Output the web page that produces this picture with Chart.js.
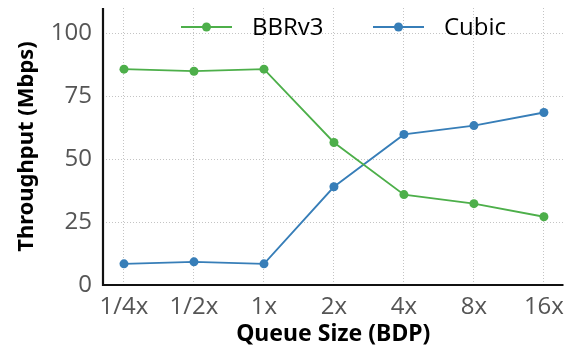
<!DOCTYPE html>
<html>
<head>
<meta charset="utf-8">
<script src="https://cdn.jsdelivr.net/npm/chart.js@4/dist/chart.umd.min.js"></script>
<style>
  html, body { margin: 0; padding: 0; background: #fff; }
  #wrap { width: 568px; height: 348px; position: relative; }
</style>
</head>
<body>
<div id="wrap"><canvas id="chart"></canvas></div>
<script>
const queueSizes = ['1/4x', '1/2x', '1x', '2x', '4x', '8x', '16x'];
const bbrv3 = [85.7, 84.9, 85.7, 56.6, 35.9, 32.3, 27.1];
const cubic = [8.4, 9.2, 8.4, 39.0, 59.8, 63.3, 68.5];
const yTicks = [0, 25, 50, 75, 100];

const GREEN = '#4daf4a';
const BLUE = '#377eb8';
const TICK_FONT = "'Open Sans', 'Noto Sans', sans-serif";
const TITLE_FONT = "'Noto Sans', 'Open Sans', sans-serif";

const toPoints = (arr) => arr.map((v, i) => ({ x: i, y: v }));

// legend drawn by hand: line + dot, like matplotlib
const legendPlugin = {
    id: 'mplLegend',
    afterDatasetsDraw(chart) {
        const ctx = chart.ctx;
        const items = [
            { label: 'BBRv3', color: GREEN, x: 181 },
            { label: 'Cubic', color: BLUE, x: 373 }
        ];
        const y = 27;
        ctx.save();
        items.forEach(it => {
            ctx.strokeStyle = it.color;
            ctx.lineWidth = 2;
            ctx.beginPath();
            ctx.moveTo(it.x, y);
            ctx.lineTo(it.x + 51, y);
            ctx.stroke();
            ctx.fillStyle = it.color;
            ctx.beginPath();
            ctx.arc(it.x + 25.5, y, 4.5, 0, Math.PI * 2);
            ctx.fill();
            ctx.fillStyle = '#000';
            ctx.font = `24px ${TICK_FONT}`;
            ctx.textBaseline = 'middle';
            ctx.fillText(it.label, it.x + 71, y + 1);
        });
        ctx.restore();
    }
};

// left and bottom spines
const spinePlugin = {
    id: 'spines',
    afterDraw(chart) {
        const { ctx, chartArea: a } = chart;
        ctx.save();
        ctx.strokeStyle = '#111';
        ctx.lineWidth = 2.2;
        ctx.beginPath();
        ctx.moveTo(a.left, a.top);
        ctx.lineTo(a.left, a.bottom);
        ctx.lineTo(a.right, a.bottom);
        ctx.stroke();
        ctx.restore();
    }
};

const makeDataset = (label, data, color) => ({
    label,
    data: toPoints(data),
    borderColor: color,
    backgroundColor: color,
    borderWidth: 1.8,
    pointRadius: 4.5,
    pointHoverRadius: 4.5,
    pointBorderWidth: 0,
    tension: 0
});

const gridOpts = { color: '#c4c4c4', lineWidth: 1, drawTicks: false };
const borderOpts = { display: false, dash: [1, 2] };

new Chart(document.getElementById('chart'), {
    type: 'line',
    data: {
        datasets: [
            makeDataset('BBRv3', bbrv3, GREEN),
            makeDataset('Cubic', cubic, BLUE)
        ]
    },
    options: {
        responsive: true,
        maintainAspectRatio: false,
        animation: false,
        layout: { padding: { top: 8, right: 0, left: 0, bottom: 0 } },
        plugins: {
            legend: { display: false },
            tooltip: { enabled: false }
        },
        scales: {
            x: {
                type: 'linear',
                min: -0.3,
                max: 6.28,
                afterBuildTicks: (s) => { s.ticks = queueSizes.map((_, i) => ({ value: i })); },
                afterFit: (s) => { s.height = 63; s.paddingLeft = 0; s.paddingRight = 0; },
                border: borderOpts,
                grid: gridOpts,
                ticks: {
                    color: '#555',
                    font: { family: TICK_FONT, size: 24 },
                    padding: 8,
                    maxRotation: 0,
                    autoSkip: false,
                    callback: (v) => queueSizes[v]
                },
                title: {
                    display: true,
                    text: 'Queue Size (BDP)',
                    color: '#000',
                    font: { family: TITLE_FONT, size: 23, weight: 'bold' },
                    padding: { top: 0, bottom: 0 }
                }
            },
            y: {
                min: 0,
                max: 110,
                afterBuildTicks: (s) => { s.ticks = yTicks.map(v => ({ value: v })); },
                afterFit: (s) => { s.width = 103; s.paddingTop = 0; s.paddingBottom = 0; },
                border: borderOpts,
                grid: gridOpts,
                ticks: {
                    color: '#555',
                    font: { family: TICK_FONT, size: 24 },
                    padding: 11
                },
                title: {
                    display: true,
                    text: 'Throughput (Mbps)',
                    color: '#000',
                    font: { family: TITLE_FONT, size: 22, weight: 'bold' },
                    padding: { top: 14, bottom: 0 }
                }
            }
        }
    },
    plugins: [legendPlugin, spinePlugin]
});
</script>
</body>
</html>
